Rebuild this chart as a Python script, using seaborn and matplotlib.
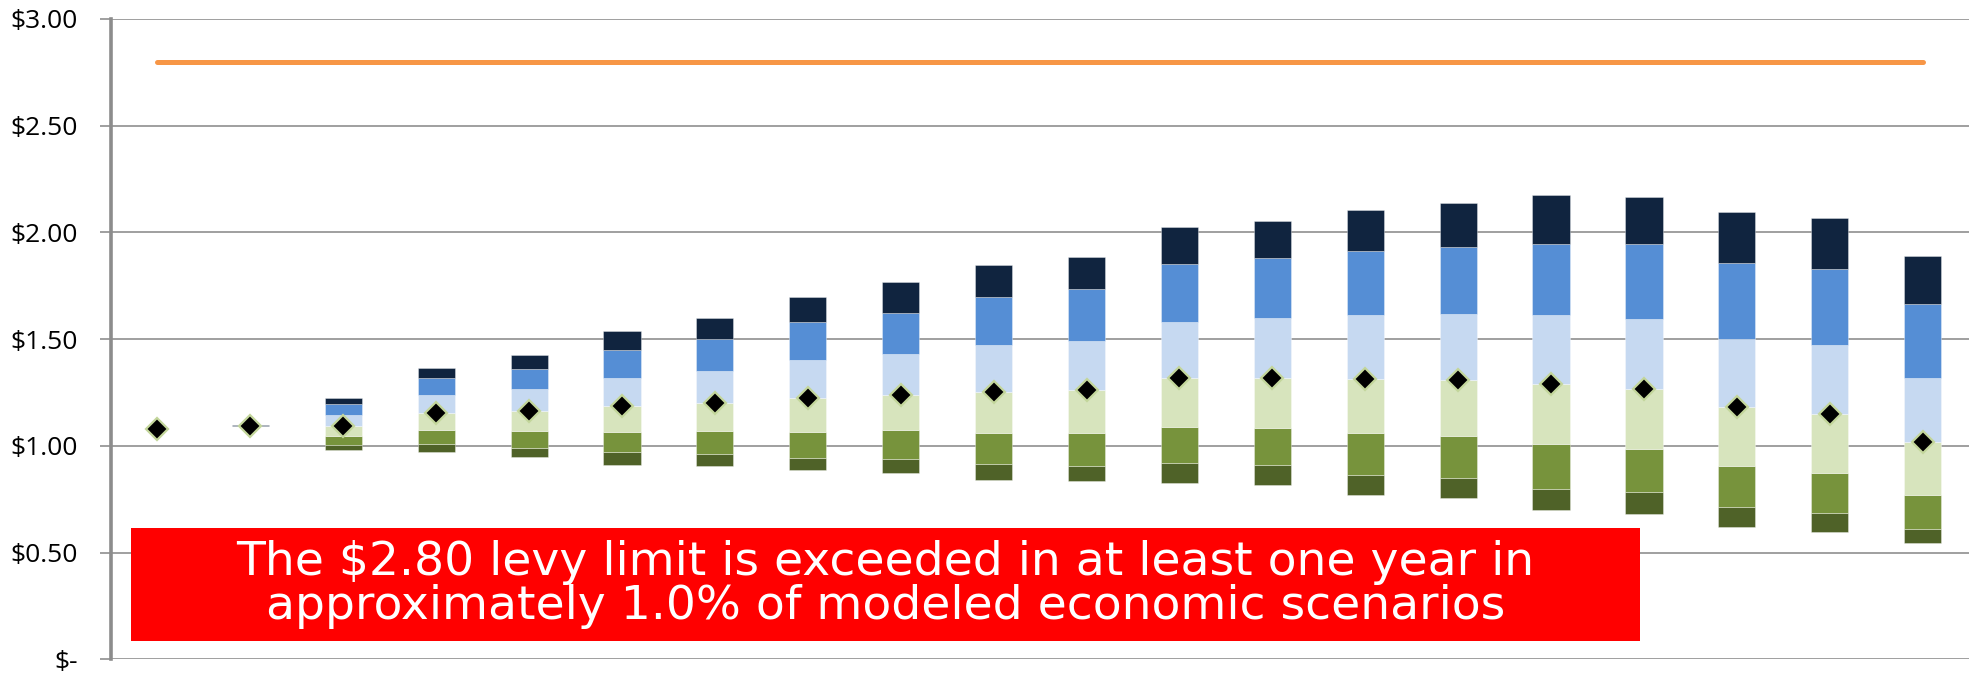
import numpy as np
import matplotlib
matplotlib.use("Agg")
import matplotlib.pyplot as plt
import seaborn as sns
from matplotlib.patches import Rectangle

# years 1..20 of the projection
years = list(range(1, 21))

# percentile bands of the levy rate ($)
p1 = [1.080, 1.095, 0.980, 0.970, 0.950, 0.913, 0.905, 0.886, 0.875, 0.841,
      0.835, 0.828, 0.816, 0.769, 0.754, 0.702, 0.682, 0.622, 0.599, 0.544]
p5 = [1.080, 1.095, 1.003, 1.008, 0.991, 0.972, 0.964, 0.945, 0.941, 0.916,
      0.908, 0.922, 0.910, 0.866, 0.852, 0.800, 0.783, 0.716, 0.688, 0.613]
p25 = [1.080, 1.095, 1.045, 1.075, 1.069, 1.064, 1.068, 1.067, 1.075, 1.062,
       1.062, 1.087, 1.084, 1.062, 1.047, 1.009, 0.984, 0.906, 0.875, 0.772]
p50 = [1.080, 1.095, 1.095, 1.155, 1.163, 1.188, 1.202, 1.223, 1.237, 1.253,
       1.262, 1.318, 1.318, 1.315, 1.310, 1.290, 1.268, 1.182, 1.149, 1.017]
p75 = [1.080, 1.095, 1.147, 1.237, 1.265, 1.320, 1.352, 1.401, 1.432, 1.471,
       1.490, 1.579, 1.599, 1.612, 1.616, 1.612, 1.594, 1.502, 1.471, 1.318]
p95 = [1.080, 1.095, 1.197, 1.317, 1.362, 1.449, 1.499, 1.582, 1.624, 1.696,
       1.735, 1.853, 1.880, 1.913, 1.931, 1.945, 1.945, 1.856, 1.828, 1.663]
p99 = [1.080, 1.098, 1.225, 1.367, 1.424, 1.537, 1.600, 1.699, 1.768, 1.846,
       1.886, 2.027, 2.056, 2.106, 2.139, 2.176, 2.168, 2.095, 2.067, 1.889]

levy_limit = 2.80
y_ticks = [0.0, 0.5, 1.0, 1.5, 2.0, 2.5, 3.0]
y_tick_labels = ["$-", "$0.50", "$1.00", "$1.50", "$2.00", "$2.50", "$3.00"]
note = ("The $2.80 levy limit is exceeded in at least one year in\n"
        "approximately 1.0% of modeled economic scenarios")

band_colors = ["#4f6228", "#77933c", "#d7e4bd", "#c6d9f1", "#558ed5", "#10243f"]

sns.set_style("white")
plt.rcParams['font.family'] = ['DejaVu Sans']

fig = plt.figure(figsize=(19.79, 6.73), dpi=100)
ax = fig.add_axes([0.0561, 0.0201, 0.9389, 0.9517])

lows = [p1, p5, p25, p50, p75, p95]
highs = [p5, p25, p50, p75, p95, p99]
for lo, hi, col in zip(lows, highs, band_colors):
    lo = np.array(lo)
    hi = np.array(hi)
    sns.barplot(x=years, y=hi - lo, bottom=lo, color=col, saturation=1,
                width=0.4, errorbar=None, ax=ax,
                edgecolor=(1, 1, 1, 0.35), linewidth=0.7, zorder=2)

idx = np.arange(len(years))
# levy limit line
ax.plot(idx, np.full(len(years), levy_limit), color="#f79646", lw=3.6,
        solid_capstyle="round", zorder=3)
# median diamonds
ax.plot(idx, p50, linestyle="none", marker="D", markersize=11,
        markerfacecolor="black", markeredgecolor="#c3d69b",
        markeredgewidth=1.6, zorder=5)

ax.set_xlim(-0.5, len(years) - 0.5)
ax.set_ylim(0, 3)
ax.set_yticks(y_ticks)
ax.set_yticklabels(y_tick_labels, fontsize=19, family=["Open Sans", "DejaVu Sans"])
ax.set_xticks([])
ax.set_xlabel("")
ax.set_ylabel("")

ax.yaxis.grid(True, color="#979797", lw=1.3)
ax.set_axisbelow(True)
for s in ["top", "right", "bottom"]:
    ax.spines[s].set_visible(False)
ax.spines["left"].set_color("#8c8c8c")
ax.spines["left"].set_linewidth(2.6)
ax.tick_params(axis="y", length=8, width=1.3, color="#979797", pad=16,
               left=True, labelcolor="black")

# red call-out box
ax.add_patch(Rectangle((0.0108, 0.029), 0.812, 0.176, transform=ax.transAxes,
                       facecolor="#ff0000", edgecolor="none", zorder=6))
ax.text(0.0108 + 0.406, 0.029 + 0.088, note, transform=ax.transAxes,
        ha="center", va="center", color="white", fontsize=34,
        linespacing=0.98, zorder=7)

fig.savefig("out.png", dpi=100)
